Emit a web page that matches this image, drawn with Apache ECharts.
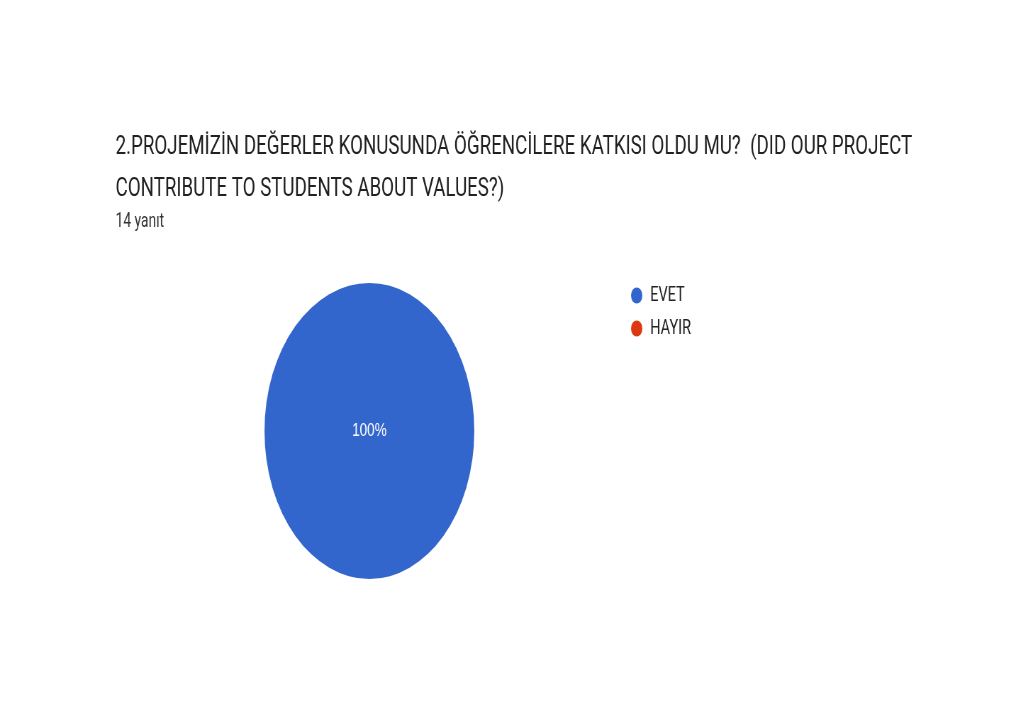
<!DOCTYPE html>
<html>
<head>
<meta charset="utf-8">
<script src="https://cdn.jsdelivr.net/npm/echarts@6/dist/echarts.min.js"></script>
<style>
html,body{margin:0;padding:0;background:#fff;overflow:hidden;}
#wrap{width:1024px;height:725px;overflow:hidden;position:relative;}
#chart{width:1444px;height:725px;transform:scaleX(0.709);transform-origin:0 0;position:absolute;left:0;top:0;}
</style>
</head>
<body>
<div id="wrap"><div id="chart"></div></div>
<script>
const titleLines = ['2.PROJEMİZİN DEĞERLER KONUSUNDA ÖĞRENCİLERE KATKISI OLDU MU?  (DID OUR PROJECT', 'CONTRIBUTE TO STUDENTS ABOUT VALUES?)'];
const subtitle = '14 yanıt';
const categories = ['EVET', 'HAYIR'];
const values = [14, 0];
const colors = ['#3366cc', '#dc3912'];

const chart = echarts.init(document.getElementById('chart'));
const total = values.reduce((a, b) => a + b, 0);
chart.setOption({
  backgroundColor: '#ffffff',
  animation: false,
  color: colors,
  title: [
    {
      text: titleLines.join('\n'),
      left: 158, top: 121,
      textStyle: { fontFamily: 'Roboto', fontSize: 26.4, fontWeight: 'normal', color: '#212121', lineHeight: 42 }
    },
    {
      text: subtitle,
      left: 158, top: 207,
      textStyle: { fontFamily: 'Roboto', fontSize: 19.5, fontWeight: 'normal', color: '#333333' }
    }
  ],
  legend: {
    orient: 'vertical',
    left: 885, top: 280,
    icon: 'circle',
    itemWidth: 16, itemHeight: 16,
    itemGap: 12,
    textStyle: { fontFamily: 'Roboto', fontSize: 20.5, color: '#222222', padding: [0, 0, 0, 6] },
    data: categories
  },
  series: [{
    type: 'pie',
    center: [521, 431],
    radius: 148,
    startAngle: 90,
    stillShowZeroSum: true,
    label: {
      show: true,
      position: 'inside',
      color: '#ffffff',
      fontFamily: 'Arial',
      fontSize: 19,
      formatter: p => p.value > 0 ? Math.round(p.value / total * 100) + '%' : ''
    },
    labelLine: { show: false },
    itemStyle: { borderWidth: 0 },
    emphasis: { disabled: true },
    data: categories.map((c, i) => ({ name: c, value: values[i], label: values[i] === total ? { position: 'center' } : {} }))
  }]
});
</script>
</body>
</html>
